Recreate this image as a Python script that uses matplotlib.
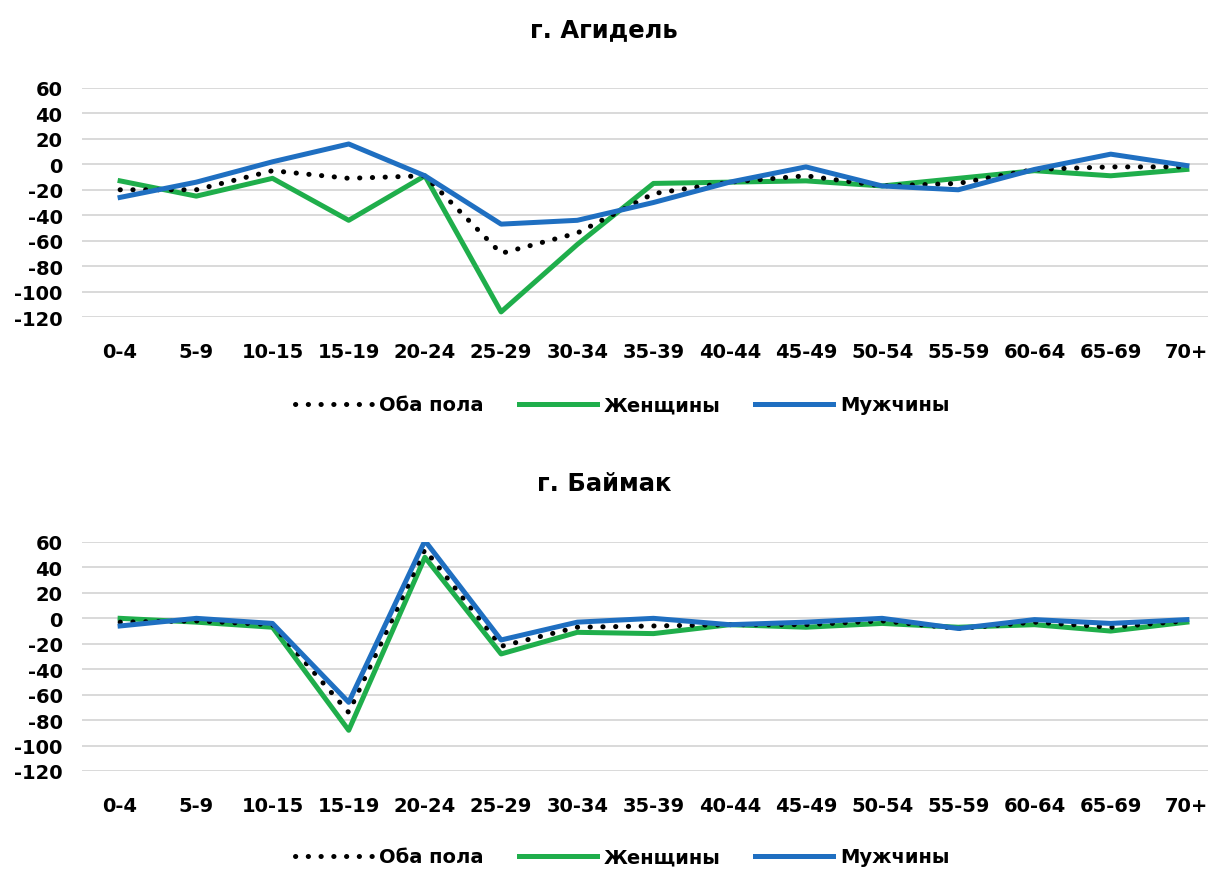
import matplotlib
matplotlib.use("Agg")
import matplotlib.pyplot as plt
from matplotlib.ticker import FuncFormatter
import numpy as np

plt.rcParams["font.family"] = ["DejaVu Sans"]
plt.rcParams["font.weight"] = "bold"

AGES = ["0-4", "5-9", "10-15", "15-19", "20-24", "25-29", "30-34", "35-39",
        "40-44", "45-49", "50-54", "55-59", "60-64", "65-69", "70+"]

# г. Агидель
AGIDEL_BOTH = [-20, -20, -5, -11, -9, -70, -54, -23, -14, -9, -17, -15, -4, -2, -2]
AGIDEL_WOMEN = [-13, -25, -11, -44, -9, -116, -63, -15, -14, -13, -17, -11, -5, -9, -4]
AGIDEL_MEN = [-26, -14, 2, 16, -9, -47, -44, -30, -14, -2, -17, -20, -4, 8, -1]

# г. Баймак
BAIMAK_BOTH = [-3, -2, -5, -74, 54, -22, -7, -6, -5, -5, -2, -8, -3, -7, -2]
BAIMAK_WOMEN = [0, -3, -7, -88, 48, -28, -11, -12, -5, -7, -4, -7, -5, -10, -3]
BAIMAK_MEN = [-6, 0, -4, -66, 61, -17, -3, 0, -5, -3, 0, -8, -1, -4, -1]

TITLES = ["г. Агидель", "г. Баймак"]
LABELS = ["Оба пола", "Женщины", "Мужчины"]
GREEN = "#1fae4b"
BLUE = "#1f6fc1"

W, H = 1208, 870
fig = plt.figure(figsize=(W / 100, H / 100), dpi=100)


def px_axes(left, top, right, bottom):
    return fig.add_axes([left / W, 1 - bottom / H, (right - left) / W, (bottom - top) / H])


def draw(ax, both, women, men, title, title_y, legend_y):
    x = np.arange(len(AGES))
    ax.plot(x, both, color="black", lw=3.6, linestyle=(0, (0.05, 2.5)),
            dash_capstyle="round", label=LABELS[0], zorder=3)
    ax.plot(x, women, color=GREEN, lw=3.6, label=LABELS[1], zorder=2)
    ax.plot(x, men, color=BLUE, lw=3.6, label=LABELS[2], zorder=4)
    ax.set_xlim(-0.5, 14.5)
    ax.set_ylim(-120, 60)
    ax.set_yticks(np.arange(-120, 61, 20))
    ax.yaxis.set_major_formatter(FuncFormatter(lambda v, p: f"{v:.0f}".replace("\u2212", "-")))
    ax.set_xticks(x)
    ax.set_xticklabels(AGES, fontsize=14, fontweight="bold")
    ax.tick_params(axis="y", labelsize=14, length=0, pad=14)
    ax.tick_params(axis="x", length=0, pad=18)
    for lab in ax.get_yticklabels():
        lab.set_fontweight("bold")
    ax.grid(True, axis="y", color="#d9d9d9", lw=1.4)
    ax.set_axisbelow(True)
    for s in ax.spines.values():
        s.set_visible(False)
    fig.text(0.5, 1 - title_y / H, title, ha="center", va="center",
             fontsize=17.5, fontweight="bold")
    fig.legend(handles=ax.get_lines(), loc="center",
               bbox_to_anchor=(0.515, 1 - legend_y / H), ncol=3, frameon=False,
               fontsize=14, handlelength=4.0, handletextpad=0.35,
               columnspacing=1.8, borderaxespad=0)


ax1 = px_axes(82, 89, 1225, 318)
draw(ax1, AGIDEL_BOTH, AGIDEL_WOMEN, AGIDEL_MEN, TITLES[0], 30, 406)
ax2 = px_axes(82, 543, 1225, 772)
draw(ax2, BAIMAK_BOTH, BAIMAK_WOMEN, BAIMAK_MEN, TITLES[1], 484, 858)

fig.savefig("out.png", dpi=100)
